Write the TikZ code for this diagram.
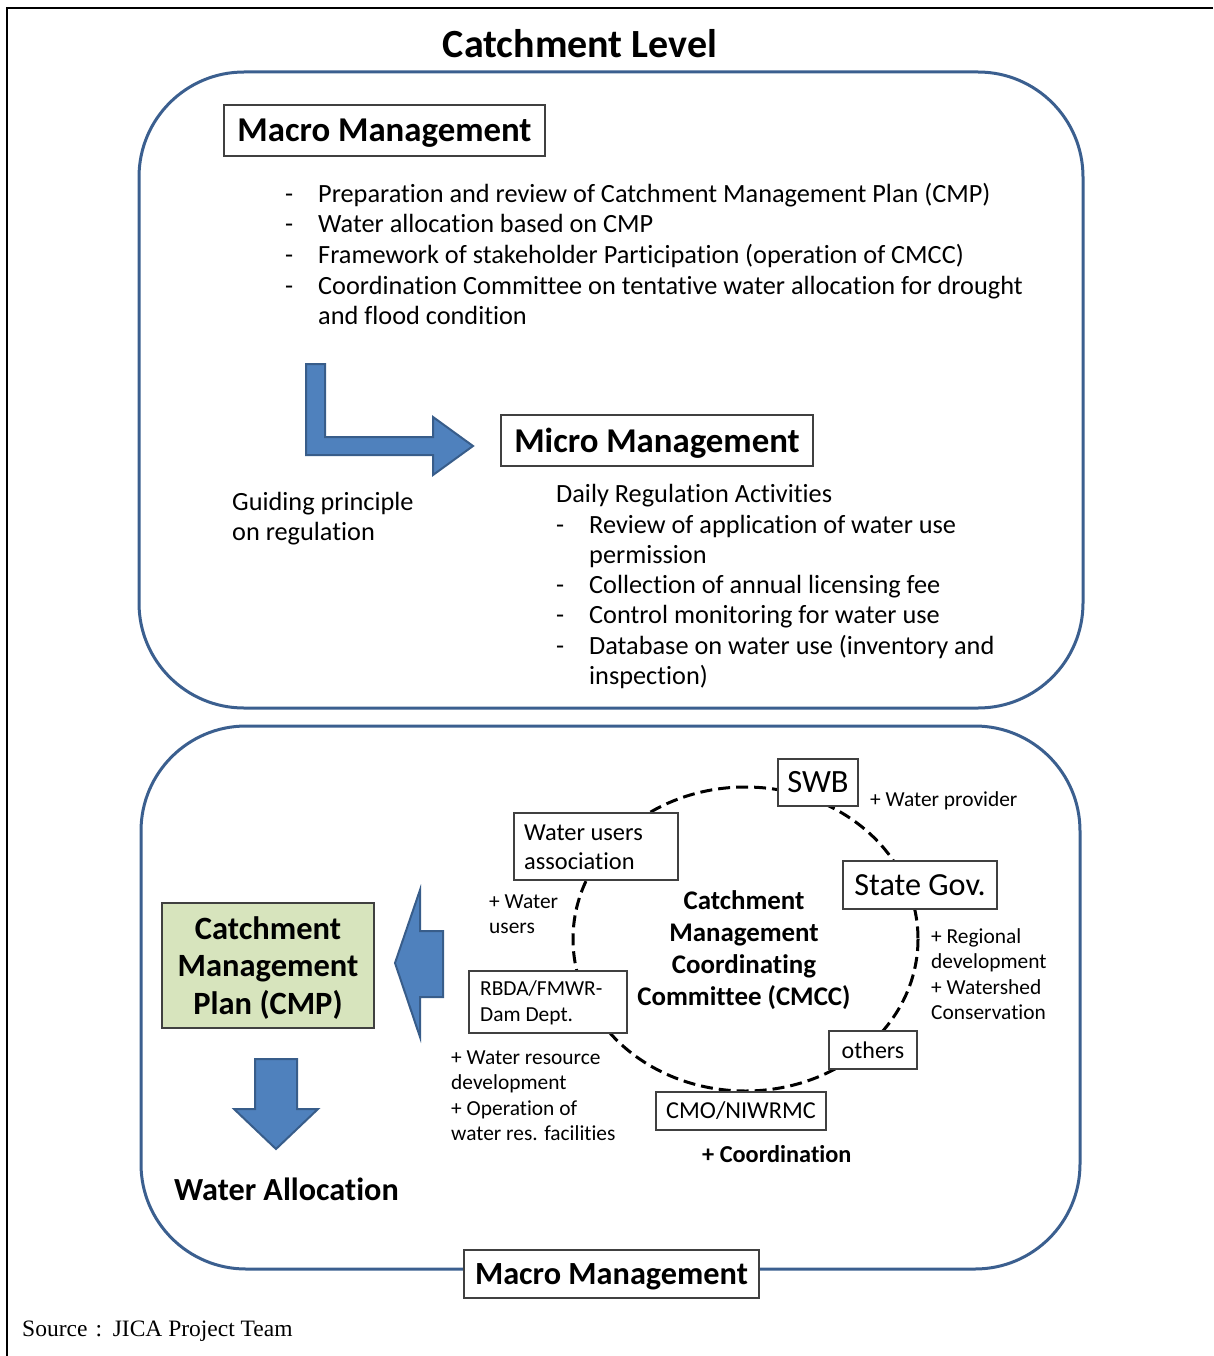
\documentclass[tikz,border=0pt]{standalone}
\usepackage{fontspec}
\setmainfont{Carlito}[Ligatures=NoCommon]
\newfontfamily\srcfont{Liberation Serif}
\definecolor{panelblue}{HTML}{3B5F8F}
\definecolor{arrowfill}{HTML}{4F81BD}
\definecolor{arrowline}{HTML}{385D8A}
\definecolor{boxline}{HTML}{404040}
\definecolor{cmpgreen}{HTML}{D7E4BD}
\begin{document}
\begin{tikzpicture}[x=1pt,y=-1pt,
  panel/.style={draw=panelblue, line width=3pt, rounded corners=105pt},
  bigarrow/.style={fill=arrowfill, draw=arrowline, line width=2pt, line join=miter},
  tbox/.style={draw=boxline, fill=white, line width=1.2pt, inner sep=0pt, align=center},
  lbl/.style={anchor=base west, inner sep=0pt},
  clbl/.style={anchor=base, inner sep=0pt},
  body/.style={font=\fontsize{26.3}{30}\selectfont},
  small/.style={font=\fontsize{21.4}{25}\selectfont},
  head/.style={font=\fontsize{34.8}{40}\selectfont\bfseries, text depth=0pt},
]
\useasboundingbox (0,0) rectangle (1213,1356);
% frame
\draw[line width=2.5pt] (7,1356) -- (7,8) -- (1213,8);
% title
\node[clbl, font=\fontsize{40}{46}\selectfont\bfseries] (title) at (580,58) {Catchment Level};
% panels
\draw[panel] (139,72) rectangle (1083,708);
\draw[panel] (141,726) rectangle (1080,1269);

% ---------- top panel ----------
\node[tbox, head, minimum width=321pt, minimum height=51pt] (macroTop) at (384.5,130.5) {Macro Management};
\foreach \y/\n in {203/a,233/b,263/c,294/d}{
  \node[lbl, body] (dash\n) at (285,\y) {-};
}
\node[lbl, body] (t1) at (318,203) {Preparation and review of Catchment Management Plan (CMP)};
\node[lbl, body] (t2) at (318,233) {Water allocation based on CMP};
\node[lbl, body] (t3) at (318,263) {Framework of stakeholder Participation (operation of CMCC)};
\node[lbl, body] (t4) at (318,294) {Coordination Committee on tentative water allocation for drought};
\node[lbl, body] (t5) at (318,324) {and flood condition};

\draw[bigarrow] (306,364) -- (325,364) -- (325,437) -- (433,437) -- (433,417) -- (473,446) -- (433,475) -- (433,455) -- (306,455) -- cycle;

\node[lbl, body] (g1) at (232,510) {Guiding principle};
\node[lbl, body] (g2) at (232,540) {on regulation};

\node[tbox, head, minimum width=312pt, minimum height=51pt] (micro) at (657,440.5) {Micro Management};
\node[lbl, body] (daily) at (556,502) {Daily Regulation Activities};
\foreach \y/\n in {533/a,593/b,623/c,654/d}{
  \node[lbl, body] (mdash\n) at (556,\y) {-};
}
\node[lbl, body] (m1) at (589,533) {Review of application of water use};
\node[lbl, body] (m2) at (589,563) {permission};
\node[lbl, body] (m3) at (589,593) {Collection of annual licensing fee};
\node[lbl, body] (m4) at (589,623) {Control monitoring for water use};
\node[lbl, body] (m5) at (589,654) {Database on water use (inventory and};
\node[lbl, body] (m6) at (589,684) {inspection)};

% ---------- bottom panel ----------
\node[tbox, fill=cmpgreen, minimum width=212pt, minimum height=125pt] (cmp) at (268,965.5) {};
\node[clbl, font=\fontsize{32.5}{37.5}\selectfont\bfseries] (cmp1) at (268,939) {Catchment};
\node[clbl, font=\fontsize{32.5}{37.5}\selectfont\bfseries] (cmp2) at (268,976.5) {Management};
\node[clbl, font=\fontsize{32.5}{37.5}\selectfont\bfseries] (cmp3) at (268,1014) {Plan (CMP)};
\draw[bigarrow] (395,963) -- (420,890) -- (420,931) -- (443,931) -- (443,997) -- (420,997) -- (420,1037) -- cycle;
\draw[bigarrow] (255,1059) -- (297,1059) -- (297,1109) -- (318,1109) -- (276,1149) -- (234,1109) -- (255,1109) -- cycle;
\node[lbl, font=\fontsize{32.2}{38}\selectfont\bfseries] (alloc) at (174,1200) {Water Allocation};

% CMCC ring
\draw[line width=3pt, dash pattern=on 12pt off 6pt] (745.5,939) ellipse [x radius=172.5, y radius=152];
\node[clbl, font=\fontsize{26.9}{32}\selectfont\bfseries] (c1) at (744,909) {Catchment};
\node[clbl, font=\fontsize{26.9}{32}\selectfont\bfseries] (c2) at (744,941) {Management};
\node[clbl, font=\fontsize{26.9}{32}\selectfont\bfseries] (c3) at (744,973) {Coordinating};
\node[clbl, font=\fontsize{26.9}{32}\selectfont\bfseries] (c4) at (744,1005) {Committee (CMCC)};

\node[tbox, minimum width=80pt, minimum height=47pt, font=\fontsize{32.5}{38}\selectfont] (swb) at (818,782.5) {SWB};
\node[tbox, minimum width=154pt, minimum height=48pt, font=\fontsize{32.2}{38}\selectfont] (state) at (920,885) {State Gov.};
\node[tbox, minimum width=164pt, minimum height=67pt] (wua) at (596,846.5) {};
\node[lbl, font=\fontsize{24.4}{29}\selectfont] (wua1) at (524,840) {Water users};
\node[lbl, font=\fontsize{24.4}{29}\selectfont] (wua2) at (524,869) {association};
\node[tbox, minimum width=158pt, minimum height=62pt] (rbda) at (548,1002) {};
\node[lbl, small] (rbda1) at (480,995.5) {RBDA/FMWR-};
\node[lbl, small] (rbda2) at (480,1021.5) {Dam Dept.};
\node[tbox, minimum width=88pt, minimum height=38pt, font=\fontsize{24}{28}\selectfont] (others) at (873,1050) {others};
\node[tbox, minimum width=170pt, minimum height=38pt, font=\fontsize{24.3}{28}\selectfont] (cmo) at (741,1111) {CMO/NIWRMC};

\node[lbl, small] (wp) at (870,806) {+ Water provider};
\node[lbl, small] (wu1) at (489,908) {+ Water};
\node[lbl, small] (wu2) at (489,933) {users};
\node[lbl, small] (r1) at (931,943) {+ Regional};
\node[lbl, small] (r2) at (931,968) {development};
\node[lbl, small] (r3) at (931,994) {+ Watershed};
\node[lbl, small] (r4) at (931,1019) {Conservation};
\node[lbl, small] (w1) at (451,1064) {+ Water resource};
\node[lbl, small] (w2) at (451,1089) {development};
\node[lbl, small] (w3) at (451,1115) {+ Operation of};
\node[lbl, small] (w4) at (451,1140) {water res. facilities};
\node[lbl, font=\fontsize{24.3}{28}\selectfont\bfseries] (coord) at (702,1162) {+ Coordination};

\node[tbox, font=\fontsize{32.3}{38}\selectfont\bfseries, text depth=0pt, minimum width=295pt, minimum height=48pt] (macroBot) at (611.5,1274) {Macro Management};

% source
\node[lbl, font=\fontsize{23.5}{26}\selectfont\srcfont] (src) at (22,1336) {Source\hspace{0.35em}:\hspace{0.45em}JICA Project Team};
\end{tikzpicture}
\end{document}
